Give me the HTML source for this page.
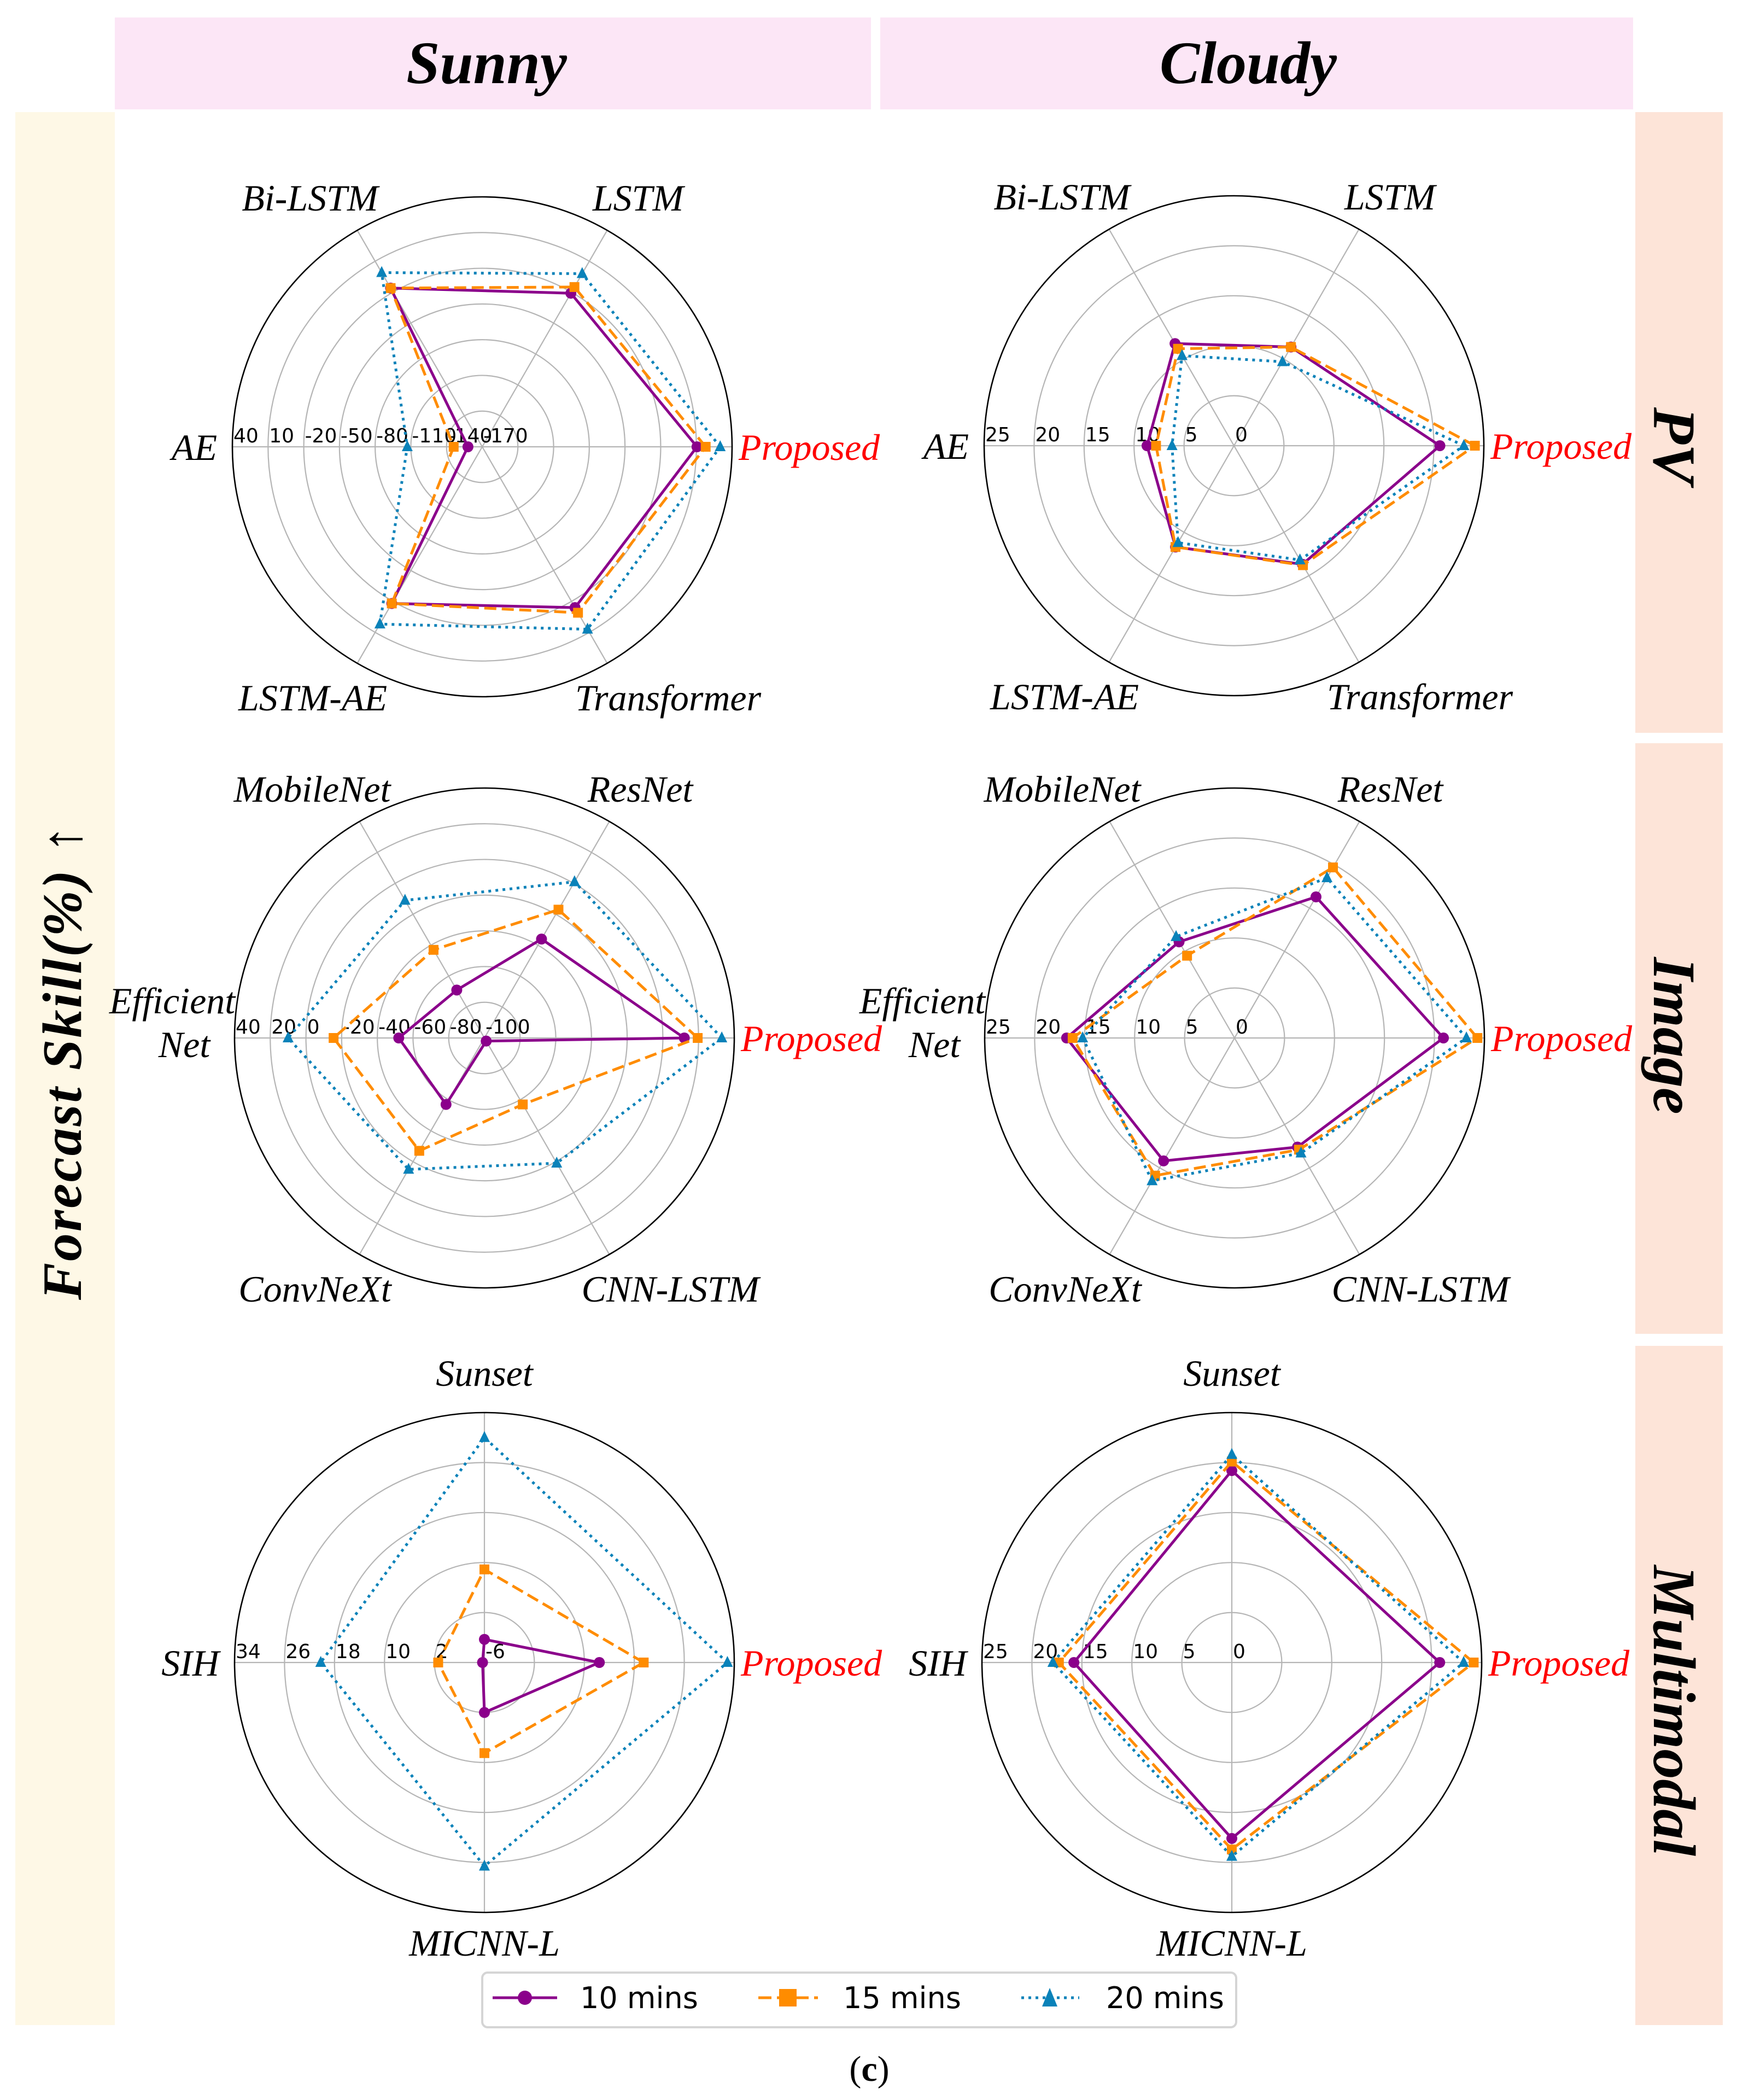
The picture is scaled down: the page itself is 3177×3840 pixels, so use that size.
<!DOCTYPE html>
<html><head><meta charset="utf-8"><style>
html,body{margin:0;padding:0;background:#fff;}
svg{display:block;}
</style></head><body>
<svg id="fig" xmlns="http://www.w3.org/2000/svg" width="3177" height="3840" viewBox="0 0 3177 3840">
<rect x="0" y="0" width="3177" height="3840" fill="#fff"/>
<rect x="210" y="32" width="1383" height="168" fill="#fce6f6"/>
<rect x="1610" y="32" width="1377" height="168" fill="#fce6f6"/>
<text x="890" y="152" text-anchor="middle" font-family="Liberation Serif, serif" font-style="italic" font-weight="bold" font-size="110">Sunny</text>
<text x="2283" y="152" text-anchor="middle" font-family="Liberation Serif, serif" font-style="italic" font-weight="bold" font-size="110">Cloudy</text>
<rect x="28" y="205" width="182" height="3498" fill="#fef8e6"/>
<text transform="translate(148,1943) rotate(-90)" text-anchor="middle" font-family="Liberation Serif, DejaVu Serif, serif" font-style="italic" font-weight="bold" font-size="102" textLength="868">Forecast Skill(%) ↑</text>
<rect x="2991" y="205" width="160" height="1135" fill="#fde4d8"/>
<rect x="2991" y="1359" width="160" height="1080" fill="#fde4d8"/>
<rect x="2991" y="2461" width="160" height="1242" fill="#fde4d8"/>
<text transform="translate(3025,815) rotate(90)" text-anchor="middle" font-family="Liberation Serif, serif" font-style="italic" font-weight="bold" font-size="110">PV</text>
<text transform="translate(3025,1894) rotate(90)" text-anchor="middle" font-family="Liberation Serif, serif" font-style="italic" font-weight="bold" font-size="110">Image</text>
<text transform="translate(3025,3128) rotate(90)" text-anchor="middle" font-family="Liberation Serif, serif" font-style="italic" font-weight="bold" font-size="110">Multimodal</text>
<g id="charts"></g>
<g>
<rect x="882" y="3607" width="1379" height="100" rx="10" fill="#fff" stroke="#d5d5d5" stroke-width="4"/>
<g>
<line x1="901" y1="3653" x2="1019" y2="3653" stroke="#8b008b" stroke-width="5"/>
<circle cx="960" cy="3653" r="13" fill="#8b008b"/>
<text x="1061" y="3672" font-family="DejaVu Sans, sans-serif" font-size="54">10 mins</text>
</g>
<g>
<line x1="1387" y1="3653" x2="1496" y2="3653" stroke="#ff8c00" stroke-width="5" stroke-dasharray="24,10"/>
<rect x="1425" y="3637" width="32" height="32" fill="#ff8c00"/>
<text x="1542" y="3672" font-family="DejaVu Sans, sans-serif" font-size="54">15 mins</text>
</g>
<g>
<line x1="1868" y1="3653" x2="1974" y2="3653" stroke="#0a82b9" stroke-width="5" stroke-dasharray="5,8"/>
<polygon points="1920,3635 1934,3669 1906,3669" fill="#0a82b9"/>
<text x="2023" y="3672" font-family="DejaVu Sans, sans-serif" font-size="54">20 mins</text>
</g>
</g>
<text x="1590" y="3805" text-anchor="middle" font-family="Liberation Serif, serif" font-size="66">(<tspan font-weight="bold">c</tspan>)</text>
</svg>
<script>
// ---- data ----
const pvCats = ["Proposed","LSTM","Bi-LSTM","AE","LSTM-AE","Transformer"];
const imgCats = ["Proposed","ResNet","MobileNet","Efficient|Net","ConvNeXt","CNN-LSTM"];
const mmCats = ["Proposed","Sunset","SIH","MICNN-L"];
const seriesNames = ["10 mins","15 mins","20 mins"];

const sunnyPvTicks = [-170,-140,-110,-80,-50,-20,10,40];
const sunnyPv10 = [10.5,-21,-16,-158,-18,-14];
const sunnyPv15 = [17.8,-15,-16,-146,-18,-9];
const sunnyPv20 = [30,-2,-1,-107,2,7];

const cloudyPvTicks = [0,5,10,15,20,25];
const cloudyPv10 = [20.6,11.4,11.8,8.7,11.7,13.7];
const cloudyPv15 = [24.1,11.4,11.2,7.8,11.7,13.8];
const cloudyPv20 = [23.0,9.7,10.4,6.2,11.2,13.2];

const sunnyImgTicks = [-100,-80,-60,-40,-20,0,20,40];
const sunnyImg10 = [12,-36,-69,-52,-57,-98];
const sunnyImg15 = [19.5,-17,-43,-15.5,-27,-57];
const sunnyImg20 = [33,1,-11,10,-15,-19];

const cloudyImgTicks = [0,5,10,15,20,25];
const cloudyImg10 = [20.9,16.3,11.1,16.8,14.2,12.6];
const cloudyImg15 = [24.3,19.7,9.5,16.2,15.9,12.9];
const cloudyImg20 = [23.2,18.5,11.7,15.2,16.5,13.3];

const sunnyMmTicks = [-6,2,10,18,26,34];
const sunnyMm10 = [12.4,-2.3,-5.7,2];
const sunnyMm15 = [19.5,8.9,1.4,8.5];
const sunnyMm20 = [32.9,30,20.2,26.6];

const cloudyMmTicks = [0,5,10,15,20,25];
const cloudyMm10 = [20.8,19.2,15.8,17.6];
const cloudyMm15 = [24.2,20.1,17.3,18.7];
const cloudyMm20 = [23.2,20.8,17.9,19.4];

// ---- drawing ----
const NS = "http://www.w3.org/2000/svg";
const root = document.getElementById("charts");
const R = 457;
const styles = [
  {color:"#8b008b", dash:"", marker:"circle", cls:"10"},
  {color:"#ff8c00", dash:"22,10", marker:"square", cls:"15"},
  {color:"#0a82b9", dash:"5,8", marker:"triangle", cls:"20"}
];
function mk(tag, attrs, parent){
  const e = document.createElementNS(NS, tag);
  for (const k in attrs) e.setAttribute(k, attrs[k]);
  parent.appendChild(e);
  return e;
}
function drawRadar(name, cx, cy, cats, ticks, series){
  const g = mk("g", {}, root);
  
  
  const vmin = ticks[0], vmax = ticks[ticks.length-1];
  const rScale = v => (v - vmin) / (vmax - vmin) * R;
  const n = cats.length;
  const ang = i => i * 2 * Math.PI / n;
  ticks.forEach((t, i) => {
    if (i === 0 || i === ticks.length-1) return;
    const c = mk("circle", {cx:cx, cy:cy, r:rScale(t), fill:"none", stroke:"#b5b5b5", "stroke-width":2.2}, g);
    
    
  });
  for (let i = 0; i < n; i++) {
    const a = ang(i);
    const l = mk("line", {x1:cx, y1:cy, x2:cx + R*Math.cos(a), y2:cy - R*Math.sin(a), stroke:"#b5b5b5", "stroke-width":2.2}, g);
    
    
  }
  const oc = mk("circle", {cx:cx, cy:cy, r:R, fill:"none", stroke:"#000", "stroke-width":2.6}, g);
  
  
  ticks.forEach(t => {
    const tx = mk("text", {x:cx - rScale(t) + 2, y:cy - 8, "font-family":"DejaVu Sans, sans-serif", "font-size":36}, g);
    tx.textContent = String(t);
    
    
  });
  cats.forEach((c, i) => {
    const a = ang(i);
    const co = Math.cos(a), si = Math.sin(a);
    const lines = c.split("|");
    const base = {"font-family":"Liberation Serif, serif", "font-style":"italic", "font-size":68, fill: i === 0 ? "#ff0000" : "#000"};
    let t;
    if (lines.length > 1) {
      t = mk("text", Object.assign({x:cx - 571, y:cy - 45, "text-anchor":"middle"}, base), g);
      const t1 = mk("tspan", {x:cx - 571, y:cy - 45}, t); t1.textContent = lines[0];
      const t2 = mk("tspan", {x:cx - 549, y:cy + 35}, t); t2.textContent = lines[1];
    } else {
      let x, y, anchor = "middle";
      if (co > 0.99) { x = cx + R + 12; y = cy; anchor = "start"; }
      else if (co < -0.99) { x = cx - R - 28; y = cy; anchor = "end"; }
      else if (Math.abs(co) < 0.01) { x = cx; y = cy - (si > 0 ? 1.16 : -1.12) * R; }
      else {
        const dx = si > 0 ? (co > 0 ? 285 : -315) : (co > 0 ? 340 : -310);
        x = cx + dx; y = cy - 1.0 * R * si + (si > 0 ? -60 : 62);
      }
      t = mk("text", Object.assign({x:x, y:y + 24, "text-anchor":anchor}, base), g);
      t.textContent = c;
    }
    
    
  });
  series.forEach((vals, si) => {
    const st = styles[si];
    const pts = vals.map((v, i) => {
      const r = rScale(v), a = ang(i);
      return [cx + r*Math.cos(a), cy - r*Math.sin(a)];
    });
    const sg = mk("g", {}, g);
    
    
    const poly = mk("polygon", {points: pts.map(p => p.join(",")).join(" "), fill:"none", stroke:st.color, "stroke-width":5, "stroke-dasharray":st.dash || "none", "stroke-linejoin":"miter"}, sg);
    
    
    pts.forEach(p => {
      let m;
      if (st.marker === "circle") m = mk("circle", {cx:p[0], cy:p[1], r:10, fill:st.color}, sg);
      else if (st.marker === "square") m = mk("rect", {x:p[0]-9, y:p[1]-9, width:18, height:18, fill:st.color}, sg);
      else m = mk("polygon", {points:`${p[0]},${p[1]-12} ${p[0]+10},${p[1]+8} ${p[0]-10},${p[1]+8}`, fill:st.color}, sg);
      
      
    });
  });
}
drawRadar("sunny-pv-radar", 882, 817, pvCats, sunnyPvTicks, [sunnyPv10, sunnyPv15, sunnyPv20]);
drawRadar("cloudy-pv-radar", 2257, 815, pvCats, cloudyPvTicks, [cloudyPv10, cloudyPv15, cloudyPv20]);
drawRadar("sunny-image-radar", 886, 1898, imgCats, sunnyImgTicks, [sunnyImg10, sunnyImg15, sunnyImg20]);
drawRadar("cloudy-image-radar", 2258, 1898, imgCats, cloudyImgTicks, [cloudyImg10, cloudyImg15, cloudyImg20]);
drawRadar("sunny-multimodal-radar", 886, 3040, mmCats, sunnyMmTicks, [sunnyMm10, sunnyMm15, sunnyMm20]);
drawRadar("cloudy-multimodal-radar", 2253, 3040, mmCats, cloudyMmTicks, [cloudyMm10, cloudyMm15, cloudyMm20]);
</script>
</body></html>
